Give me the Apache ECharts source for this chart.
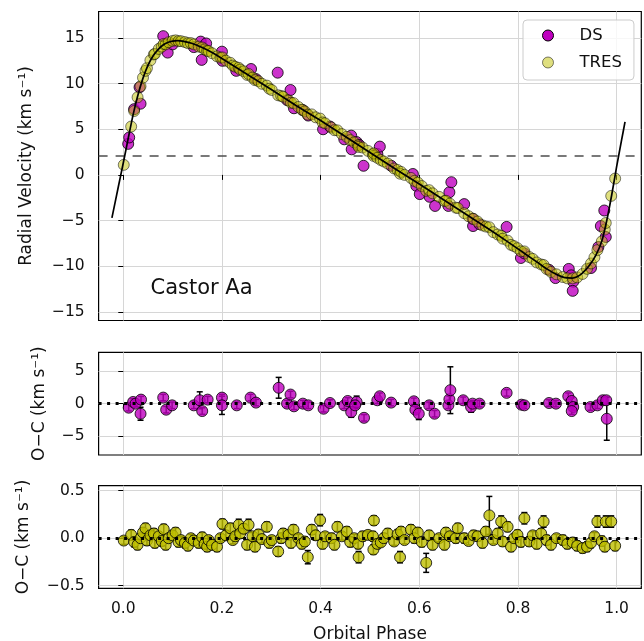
<!DOCTYPE html>
<html><head><meta charset="utf-8">
<script src="https://cdn.jsdelivr.net/npm/echarts@6/dist/echarts.min.js"></script>
<style>html,body{margin:0;padding:0;background:#fff}#c{width:644px;height:641px}</style>
</head><body><div id="c"></div>
<script>
// ---------- data ----------
const xTicks = [0, 0.2, 0.4, 0.6, 0.8, 1.0];
const rvTicks = [-15, -10, -5, 0, 5, 10, 15];
const ocDsTicks = [-5, 0, 5];
const ocTresTicks = [-0.5, 0, 0.5];
const gammaRV = 2.05;
const targetName = 'Castor Aa';

const modelPhase = [-0.023,-0.01,0,0.01,0.02,0.03,0.04,0.05,0.06,0.07,0.08,0.09,0.10,0.11,0.12,0.14,0.16,0.18,0.20,0.25,0.30,0.35,0.40,0.45,0.50,0.55,0.60,0.65,0.70,0.75,0.80,0.82,0.84,0.86,0.88,0.895,0.91,0.92,0.93,0.945,0.958,0.97,0.98,0.99,1.0,1.01,1.017];
const modelRV = [-4.7,-1.3,1.3,4.0,6.6,8.8,10.6,12.0,13.0,13.7,14.2,14.5,14.65,14.7,14.65,14.4,13.95,13.4,12.75,11.05,9.35,7.6,5.95,4.2,2.45,0.7,-1.0,-2.75,-4.5,-6.25,-8.1,-8.85,-9.6,-10.35,-10.95,-11.25,-11.3,-11.15,-10.8,-9.9,-8.8,-7.25,-5.0,-2.2,0.9,3.8,5.8];

const dsPhase = [0.010,0.012,0.022,0.035,0.033,0.081,0.090,0.100,0.143,0.157,0.159,0.168,0.200,0.201,0.229,0.259,0.269,0.313,0.332,0.339,0.346,0.364,0.375,0.405,0.419,0.448,0.462,0.463,0.473,0.478,0.487,0.515,0.520,0.543,0.587,0.594,0.601,0.621,0.632,0.659,0.661,0.665,0.691,0.709,0.708,0.722,0.777,0.806,0.813,0.863,0.876,0.903,0.908,0.912,0.911,0.948,0.963,0.968,0.975,0.978];
const dsRV = [3.4,4.1,7.2,7.8,9.6,15.2,13.4,14.3,14.0,14.6,12.6,14.4,13.5,12.5,11.4,11.6,10.5,11.2,8.2,9.3,7.3,7.1,6.5,5.0,5.3,3.9,4.3,2.8,3.6,3.3,1.0,2.3,3.1,1.0,0.1,-1.2,-2.1,-2.4,-3.4,-3.4,-1.9,-0.8,-3.2,-5.6,-4.8,-5.4,-5.7,-9.1,-8.6,-10.4,-11.3,-10.3,-11.0,-11.7,-12.7,-10.2,-7.9,-5.6,-3.9,-6.8];

const dsOCPhase = [0.011,0.020,0.025,0.036,0.035,0.081,0.087,0.099,0.143,0.155,0.160,0.171,0.200,0.200,0.230,0.258,0.269,0.315,0.332,0.339,0.346,0.364,0.375,0.406,0.419,0.448,0.455,0.462,0.473,0.470,0.488,0.515,0.520,0.543,0.589,0.592,0.599,0.620,0.631,0.659,0.661,0.663,0.689,0.705,0.708,0.722,0.777,0.807,0.813,0.863,0.877,0.902,0.909,0.912,0.909,0.947,0.961,0.972,0.979,0.980];
const dsOC = [-0.62,0.26,0.0,0.62,-1.55,0.93,-0.93,-0.26,-0.26,0.52,-1.14,0.62,0.93,-0.26,-0.26,0.93,0.16,2.44,0.0,1.4,-0.41,0.0,-0.26,-0.78,0.1,-0.26,0.41,-1.3,0.26,-0.26,-2.18,0.52,1.14,0.16,0.36,-0.93,-1.55,-0.26,-1.55,-0.26,0.67,2.07,0.52,-0.52,0.0,0.0,1.66,-0.16,-0.26,0.1,0.0,1.14,0.41,-0.52,-1.14,-0.52,-0.26,0.52,0.52,-2.33];
const dsOCErr = [0.5,0.5,0.5,0.5,1.0,0.5,0.5,0.5,0.5,1.3,0.5,0.5,0.5,1.4,0.5,0.5,0.5,1.6,0.5,0.5,0.5,0.5,0.5,0.5,0.5,0.5,0.5,0.8,0.9,0.5,0.5,0.5,0.5,0.5,0.5,0.5,0.9,0.5,0.5,0.5,0.5,3.6,0.5,0.8,0.5,0.5,0.5,0.5,0.5,0.5,0.5,0.5,0.5,0.5,0.5,0.5,0.5,0.5,0.5,3.3];

const tresPhase = [0.001,0.016,0.022,0.029,0.035,0.040,0.045,0.048,0.055,0.062,
0.064,0.072,0.078,0.082,0.086,0.092,0.100,0.106,0.112,0.117,
0.125,0.131,0.137,0.143,0.153,0.160,0.165,0.170,0.173,0.180,
0.190,0.197,0.201,0.208,0.217,0.222,0.227,0.234,0.237,0.244,
0.251,0.254,0.262,0.267,0.274,0.281,0.291,0.296,0.301,0.314,
0.320,0.324,0.335,0.340,0.345,0.355,0.362,0.368,0.374,0.382,
0.390,0.399,0.404,0.409,0.422,0.428,0.434,0.443,0.453,0.460,
0.468,0.476,0.477,0.485,0.496,0.506,0.507,0.508,0.515,0.522,
0.528,0.536,0.549,0.556,0.561,0.563,0.570,0.583,0.590,0.597,
0.605,0.614,0.620,0.627,0.640,0.651,0.654,0.662,0.674,0.678,
0.691,0.700,0.710,0.718,0.728,0.735,0.742,0.750,0.759,0.766,
0.769,0.779,0.786,0.792,0.799,0.806,0.813,0.823,0.830,0.838,
0.847,0.852,0.858,0.867,0.878,0.891,0.900,0.911,0.920,0.931,
0.940,0.948,0.955,0.961,0.970,0.976,0.978,0.989,0.997];
const tresRV = [1.1,5.3,7.0,8.5,9.7,10.65,11.4,11.7,12.55,13.2,
13.25,13.8,14.05,14.35,14.3,14.53,14.68,14.74,14.65,14.65,
14.55,14.43,14.44,14.3,14.05,13.96,13.75,13.59,13.57,13.33,
12.99,12.85,12.87,12.51,12.28,11.98,11.85,11.73,11.54,11.35,
10.95,11.05,10.66,10.38,10.27,9.98,9.78,9.44,9.3,8.72,
8.65,8.56,8.16,7.9,7.87,7.44,7.14,6.96,6.61,6.63,
6.31,6.17,5.75,5.66,5.18,4.9,4.88,4.47,4.17,3.81,
3.57,3.23,3.06,3.0,2.63,2.26,2.08,2.36,1.87,1.63,
1.47,1.24,0.7,0.54,0.13,0.33,0.0,-0.33,-0.66,-0.84,
-1.22,-1.75,-1.67,-2.02,-2.4,-2.86,-2.83,-3.15,-3.59,-3.63,
-4.19,-4.53,-4.82,-5.11,-5.53,-5.66,-5.73,-6.27,-6.53,-6.67,
-6.99,-7.2,-7.67,-7.8,-8.03,-8.37,-8.38,-9.0,-9.2,-9.59,
-9.81,-9.87,-10.3,-10.63,-10.89,-11.19,-11.33,-11.33,-11.23,-10.85,
-10.29,-9.7,-9.03,-8.24,-7.28,-5.99,-5.27,-2.3,-0.4];
const tresOC = [-0.025,0.035,-0.04,-0.07,0.0,0.06,0.105,-0.025,0.03,0.05,
-0.05,0.02,-0.03,0.095,-0.07,0.0,0.03,0.06,-0.04,-0.02,
-0.05,-0.08,0.0,-0.025,-0.05,0.01,-0.06,-0.09,-0.02,-0.07,
-0.09,0.0,0.15,0.03,0.105,-0.02,0.02,0.14,0.05,0.1,
-0.07,0.14,0.02,-0.09,0.04,-0.01,0.12,-0.05,-0.02,-0.14,
0.0,0.05,0.035,-0.05,0.09,0.0,-0.06,-0.035,-0.2,0.09,
0.03,0.19,-0.06,0.02,0.0,-0.07,0.12,0.02,0.07,-0.04,
0.0,-0.06,-0.2,0.02,0.035,0.02,-0.12,0.186,-0.06,-0.045,
0.0,0.05,-0.035,0.04,-0.2,0.07,-0.02,0.09,0.0,0.06,
-0.04,-0.26,0.03,-0.07,0.0,-0.07,0.06,0.02,0.0,0.105,
0.0,-0.03,0.03,0.02,-0.05,0.07,0.24,-0.02,0.05,0.175,
-0.035,0.12,-0.09,0.0,0.035,-0.04,0.21,-0.035,0.03,-0.06,
0.05,0.175,-0.02,-0.07,0.0,-0.02,-0.06,-0.045,-0.08,-0.105,
-0.09,-0.05,0.02,0.175,-0.03,-0.09,0.175,0.175,-0.08];
const tresErr = [0.04,0.05,0.05,0.05,0.04,0.05,0.05,0.05,0.04,0.05,
0.05,0.04,0.05,0.05,0.05,0.04,0.05,0.05,0.05,0.04,
0.05,0.05,0.04,0.05,0.05,0.05,0.05,0.05,0.04,0.05,
0.05,0.04,0.05,0.05,0.05,0.04,0.05,0.06,0.05,0.05,
0.05,0.06,0.04,0.05,0.05,0.04,0.05,0.05,0.04,0.05,
0.05,0.05,0.04,0.05,0.05,0.04,0.05,0.05,0.07,0.05,
0.05,0.06,0.05,0.04,0.05,0.05,0.05,0.04,0.05,0.05,
0.04,0.05,0.06,0.05,0.04,0.05,0.05,0.05,0.05,0.04,
0.05,0.05,0.04,0.05,0.06,0.05,0.04,0.05,0.05,0.05,
0.05,0.1,0.05,0.05,0.04,0.05,0.05,0.04,0.05,0.05,
0.05,0.04,0.05,0.05,0.05,0.05,0.2,0.04,0.05,0.06,
0.05,0.05,0.05,0.04,0.05,0.05,0.06,0.05,0.04,0.05,
0.05,0.06,0.05,0.05,0.04,0.05,0.05,0.05,0.05,0.05,
0.05,0.05,0.04,0.06,0.05,0.05,0.06,0.06,0.05];

// ---------- styling ----------
const FONT = 'DejaVu Sans';
const TXT = '#111';
const DS_COLOR = '#bf00bf';
const TRES_COLOR = '#bfbf00';
const MS = 11;
const fmt = d => v => (v < 0 ? '\u2212' : '') + Math.abs(v).toFixed(d);
const zip = (...a) => a[0].map((_, i) => a.map(x => x[i]));

const grids = [
  {left: 98.6, top: 11.5, width: 542.7, height: 309},
  {left: 98.6, top: 352.3, width: 542.7, height: 102.7},
  {left: 98.6, top: 485.7, width: 542.7, height: 102.6}
].map(g => Object.assign(g, {show: true, borderColor: '#000', borderWidth: 1.2,
  backgroundColor: 'transparent', containLabel: false, outerBoundsMode: 'none'}));

const tickStyle = {show: true, inside: false, length: 5, lineStyle: {color: '#000', width: 1}};
const splitStyle = {show: true, lineStyle: {color: '#d6d6d6', width: 1}};
const lblStyle = {fontSize: 15.5, fontFamily: FONT, color: TXT};
const nameStyle = {fontSize: 17, fontFamily: FONT, color: TXT};

const xAxes = [0, 1, 2].map(i => ({
  type: 'value', gridIndex: i, min: -0.05, max: 1.05,
  axisLine: {show: false},
  axisTick: Object.assign({customValues: xTicks}, tickStyle),
  axisLabel: Object.assign({show: i === 2, customValues: xTicks, formatter: fmt(1), margin: 13}, lblStyle),
  splitLine: splitStyle,
  name: i === 2 ? 'Orbital Phase' : '', nameLocation: 'middle', nameGap: 38,
  nameTextStyle: nameStyle
}));

const yDefs = [
  {min: -15.95, max: 17.9, ticks: rvTicks, d: 0, name: 'Radial Velocity (km s\u207B\u00B9)', gap: 64},
  {min: -7.9, max: 7.9, ticks: ocDsTicks, d: 0, name: 'O\u2212C (km s\u207B\u00B9)', gap: 51},
  {min: -0.528, max: 0.553, ticks: ocTresTicks, d: 1, name: 'O\u2212C (km s\u207B\u00B9)', gap: 67}
];
const yAxes = yDefs.map((y, i) => ({
  type: 'value', gridIndex: i, min: y.min, max: y.max,
  axisLine: {show: false},
  axisTick: Object.assign({customValues: y.ticks}, tickStyle),
  axisLabel: Object.assign({customValues: y.ticks, formatter: fmt(y.d), margin: 14}, lblStyle),
  splitLine: splitStyle,
  name: y.name, nameLocation: 'middle', nameRotate: 90, nameGap: y.gap,
  nameTextStyle: nameStyle
}));

function errRender(params, api) {
  const x = api.value(0), y = api.value(1), e = api.value(2);
  const t = api.coord([x, y + e]), b = api.coord([x, y - e]);
  const c = 3, st = {stroke: '#000', lineWidth: 1.5};
  return {type: 'group', children: [
    {type: 'line', shape: {x1: t[0], y1: t[1], x2: b[0], y2: b[1]}, style: st},
    {type: 'line', shape: {x1: t[0] - c, y1: t[1], x2: t[0] + c, y2: t[1]}, style: st},
    {type: 'line', shape: {x1: b[0] - c, y1: b[1], x2: b[0] + c, y2: b[1]}, style: st}
  ]};
}

const zeroLine = {silent: true, symbol: ['none', 'none'], label: {show: false}, z: 5,
  lineStyle: {type: [3, 5.5], width: 2.8, color: '#000', cap: 'butt'}, data: [{yAxis: 0}], animation: false};

const option = {
  animation: false,
  backgroundColor: '#fff',
  grid: grids,
  xAxis: xAxes,
  yAxis: yAxes,
  legend: {
    left: 523, top: 20, orient: 'vertical', icon: 'circle', itemWidth: 11, itemHeight: 11, itemGap: 10,
    padding: [7, 12, 9, 19], backgroundColor: 'rgba(255,255,255,0.8)', borderColor: '#cccccc',
    borderWidth: 1, borderRadius: 4, selectedMode: false,
    textStyle: {fontSize: 16.5, fontFamily: FONT, color: TXT, padding: [0, 0, 0, 21], lineHeight: 16},
    data: [
      {name: 'DS', itemStyle: {color: DS_COLOR, borderColor: '#000', borderWidth: 1, opacity: 1}},
      {name: 'TRES', itemStyle: {color: 'rgba(191,191,0,0.5)', borderColor: 'rgba(0,0,0,0.5)', borderWidth: 1, opacity: 1}}
    ]
  },
  graphic: [{type: 'text', x: 150.5, y: 288.3, silent: true,
    style: {text: targetName, fontSize: 21, fontFamily: FONT, fill: TXT, verticalAlign: 'middle', align: 'left'}}],
  series: [
    {type: 'line', name: 'gamma', xAxisIndex: 0, yAxisIndex: 0, data: [], silent: true,
      markLine: {silent: true, symbol: ['none', 'none'], label: {show: false}, z: 1, animation: false,
        lineStyle: {type: [9, 8], width: 1.6, color: '#4d4d4d'}, data: [{yAxis: gammaRV}]}},
    {type: 'scatter', name: 'DS', xAxisIndex: 0, yAxisIndex: 0, z: 2, symbolSize: MS,
      itemStyle: {color: DS_COLOR, borderColor: '#000', borderWidth: 1},
      data: zip(dsPhase, dsRV)},
    {type: 'scatter', name: 'TRES', xAxisIndex: 0, yAxisIndex: 0, z: 3, symbolSize: MS,
      itemStyle: {color: TRES_COLOR, borderColor: '#000', borderWidth: 1, opacity: 0.5},
      data: zip(tresPhase, tresRV)},
    {type: 'line', name: 'model', xAxisIndex: 0, yAxisIndex: 0, z: 4, showSymbol: false, silent: true,
      smooth: 0.2,
      lineStyle: {color: '#000', width: 1.7}, data: zip(modelPhase, modelRV)},

    {type: 'custom', name: 'DS err', xAxisIndex: 1, yAxisIndex: 1, z: 2, renderItem: errRender,
      encode: {x: 0, y: 1}, data: zip(dsOCPhase, dsOC, dsOCErr)},
    {type: 'scatter', name: 'DS O-C', xAxisIndex: 1, yAxisIndex: 1, z: 3, symbolSize: MS,
      itemStyle: {color: DS_COLOR, borderColor: '#000', borderWidth: 1},
      data: zip(dsOCPhase, dsOC), markLine: zeroLine},

    {type: 'custom', name: 'TRES err', xAxisIndex: 2, yAxisIndex: 2, z: 2, renderItem: errRender,
      encode: {x: 0, y: 1}, data: zip(tresPhase, tresOC, tresErr)},
    {type: 'scatter', name: 'TRES O-C', xAxisIndex: 2, yAxisIndex: 2, z: 3, symbolSize: MS,
      itemStyle: {color: TRES_COLOR, borderColor: '#000', borderWidth: 1},
      data: zip(tresPhase, tresOC), markLine: zeroLine}
  ]
};

const chart = echarts.init(document.getElementById('c'), null, {renderer: 'canvas'});
chart.setOption(option);
</script>
</body></html>
